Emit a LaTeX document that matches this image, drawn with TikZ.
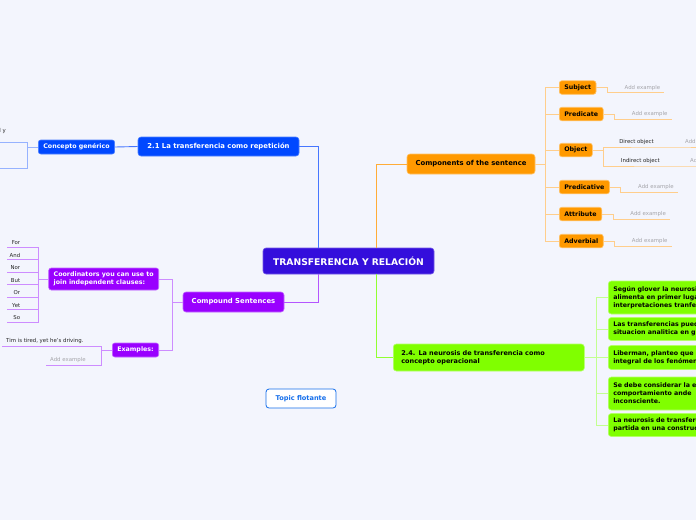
\documentclass[tikz,border=0pt]{standalone}
\usepackage{fontspec}
\setmainfont{DejaVu Sans}
\usepackage{xcolor}
\usepackage{tikz}
\usetikzlibrary{calc}

\definecolor{bgcol}{RGB}{243,245,253}
\definecolor{rootcol}{RGB}{52,14,220}
\definecolor{bluecol}{RGB}{0,72,255}
\definecolor{bluelin}{RGB}{70,118,255}
\definecolor{bluesub}{RGB}{150,178,255}
\definecolor{orangecol}{RGB}{255,153,0}
\definecolor{orangelin}{RGB}{255,172,55}
\definecolor{orangesub}{RGB}{255,206,140}
\definecolor{purplecol}{RGB}{153,0,255}
\definecolor{purplelin}{RGB}{180,85,255}
\definecolor{purplesub}{RGB}{205,140,255}
\definecolor{greencol}{RGB}{128,255,0}
\definecolor{greenlin}{RGB}{145,255,50}
\definecolor{greensub}{RGB}{195,255,145}
\definecolor{floatcol}{RGB}{20,110,235}
\definecolor{addcol}{RGB}{165,165,170}

\begin{document}
\begin{tikzpicture}[x=1pt,y=1pt,yscale=-1,
  every node/.style={inner sep=0pt},
  root/.style={fill=rootcol, draw=rootcol!70!white, line width=0.6pt, rounded corners=3pt, text=white,
    font=\bfseries\fontsize{9.2}{10}\selectfont, minimum width=171pt, minimum height=26pt},
  maintopic/.style={rounded corners=3pt, line width=0.6pt, font=\bfseries\fontsize{6.85}{8}\selectfont,
    inner xsep=8pt, minimum height=20pt, align=left},
  subtopic/.style={rounded corners=2.5pt, line width=0.6pt, font=\bfseries\fontsize{6.3}{8}\selectfont,
    inner xsep=5pt, minimum height=13.5pt, align=left},
  greenbox/.style={subtopic, fill=greencol, draw=greencol!60!white, text=black, anchor=west,
    text width=150pt, inner ysep=4pt, rounded corners=3pt},
  orangebox/.style={subtopic, fill=orangecol, draw=orangecol!60!white, text=black, anchor=west},
  purplebox/.style={subtopic, fill=purplecol, draw=purplecol!60!white, text=white},
  leaf/.style={font=\fontsize{5.4}{6.5}\selectfont, text=black!85, inner xsep=4pt, inner ysep=2pt},
  addex/.style={leaf, text=addcol},
  floating/.style={fill=white, draw=floatcol, line width=0.8pt, rounded corners=3pt, text=floatcol,
    font=\bfseries\fontsize{6.6}{8}\selectfont, minimum width=70pt, minimum height=19pt},
  bluelink/.style={draw=bluelin, line width=0.9pt},
  bluesublink/.style={draw=bluesub, line width=0.9pt},
  orangelink/.style={draw=orangelin, line width=0.9pt},
  orangesublink/.style={draw=orangesub, line width=0.9pt},
  purplelink/.style={draw=purplelin, line width=0.9pt},
  purplesublink/.style={draw=purplesub, line width=0.9pt},
  greenlink/.style={draw=greenlin, line width=0.9pt},
  greensublink/.style={draw=greensub, line width=0.9pt}]

%Background
\fill[bgcol] (0,0) rectangle (696,520);
\useasboundingbox (0,0) rectangle (696,520);
\clip (0,0) rectangle (696,520);

%Central topic
\node[root] (root) at (348.5,261) {TRANSFERENCIA Y RELACIÓN};

%Main topics
\node[maintopic, fill=bluecol, draw=bluecol!70!white, text=white, minimum width=161pt, minimum height=19pt] (rep) at (218.5,146.5) {2.1 La transferencia como repetición};
\node[maintopic, fill=orangecol, draw=orangecol!60!white, text=black, minimum width=128pt] (comp) at (471,164) {Components of the sentence};
\node[maintopic, fill=purplecol, draw=purplecol!60!white, text=white, minimum width=101pt] (compound) at (233.5,302) {Compound Sentences};
\node[maintopic, fill=greencol, draw=greencol!60!white, text=black, anchor=west, text width=175pt, minimum height=27pt,
  font=\bfseries\fontsize{6.5}{8}\selectfont] (neur) at (393,357.5) {2.4. La neurosis de transferencia como\\concepto operacional};
\node[floating] (float) at (301,398.5) {Topic flotante};

\draw[bluelink] (root.north west) ++(56,0) |- (rep.east);
\draw[orangelink] (root.north west) ++(114,0) |- (comp.west);
\draw[purplelink] (root.south west) ++(56,0) |- (compound.east);
\draw[greenlink] (root.south west) ++(114,0) |- (neur.west);

%Blue branch
\node[subtopic, fill=bluecol, draw=bluecol!70!white, text=white, minimum height=14pt] (concepto) at (76.5,147) {Concepto genérico};
\draw[bluelink] (rep.west) -- (concepto.east);
\node[leaf, anchor=east] (caly) at (10,131) {al y};
\coordinate (cg1) at (0,142);
\coordinate (cg2) at (0,168);
\draw[bluesublink] (concepto.west) -- ++(-11,0) coordinate (bluetrunk);
\draw[bluesublink] (bluetrunk) |- (cg1);
\draw[bluesublink] (bluetrunk) |- (cg2);

%Orange branch
\draw[orangesublink] (comp.east) -- ++(10,0) coordinate (orangetrunk);
\foreach \n/\t/\y in {subject/Subject/87.5, predicate/Predicate/114, object/Object/150,
    predicative/Predicative/187, attribute/Attribute/214, adverbial/Adverbial/241} {
  \node[orangebox] (\n) at (559,\y) {\t};
  \draw[orangesublink] (orangetrunk) |- (\n.west);
}
\foreach \n in {subject, predicate, predicative, attribute, adverbial} {
  \node[addex, anchor=south east] (\n-add) at ($(\n.east)+(68,5)$) {Add example};
  \draw[orangesublink] (\n.east) -- ++(11,0) |- (\n-add.south east);
}
\node[leaf, anchor=south east] (dobj) at (658,147) {Direct object};
\node[leaf, anchor=south east] (iobj) at (664,166) {Indirect object};
\node[addex, anchor=south west] (dobj-add) at (681,147) {Add example};
\node[addex, anchor=south west] (iobj-add) at (686,166) {Add example};
\draw[orangesublink] (object.east) -- ++(11,0) coordinate (objtrunk);
\draw[orangesublink] (objtrunk) |- (dobj.south east) -- (dobj-add.south east);
\draw[orangesublink] (objtrunk) |- (iobj.south east) -- (iobj-add.south east);

%Purple branch
\node[purplebox, anchor=east, minimum height=22pt] (coord) at (159,279) {Coordinators you can use to\\join independent clauses:};
\node[purplebox, anchor=east, minimum height=14pt] (examples) at (159,350) {Examples:};
\draw[purplesublink] (compound.west) -- ++(-10,0) coordinate (purpletrunk);
\draw[purplesublink] (purpletrunk) |- (coord.east);
\draw[purplesublink] (purpletrunk) |- (examples.east);

\draw[purplesublink] (coord.west) -- ++(-10,0) coordinate (conjtrunk);
\foreach \w [count=\i] in {For, And, Nor, But, Or, Yet, So} {
  \node[leaf, anchor=south west, text width=13pt, align=right, inner xsep=0pt] (conj\i) at (7,{247+12.5*(\i-1)}) {\w};
  \draw[purplesublink] (conjtrunk) |- (conj\i.south west);
}

\node[leaf, anchor=south west] (tim) at (2,346) {Tim is tired, yet he's driving.};
\node[addex, anchor=south west] (ex-add) at (46,365) {Add example};
\draw[purplesublink] (examples.west) -- ++(-11,0) coordinate (extrunk);
\draw[purplesublink] (extrunk) |- (tim.south west);
\draw[purplesublink] (extrunk) |- (ex-add.south west);

%Green branch
\node[greenbox, minimum height=33pt] (g1) at (608,297.5) {Según glover la neurosis\\alimenta en primer lugar\\interpretaciones tranfe};
\node[greenbox, minimum height=23pt] (g2) at (608,329) {Las transferencias pueden\\situacion analitica en g};
\node[greenbox, minimum height=24pt] (g3) at (608,357.5) {Liberman, planteo que\\integral de los fenómenos};
\node[greenbox, minimum height=33pt] (g4) at (608,393.5) {Se debe considerar la e\\comportamiento ande\\inconsciente.};
\node[greenbox, minimum height=23pt] (g5) at (608,425) {La neurosis de transferencia\\partida en una construcción};
\draw[greensublink] (neur.east) -- ++(12,0) coordinate (greentrunk);
\foreach \n in {g1, g2, g3, g4, g5}
  \draw[greensublink] (greentrunk) |- (\n.west);

\end{tikzpicture}
\end{document}
